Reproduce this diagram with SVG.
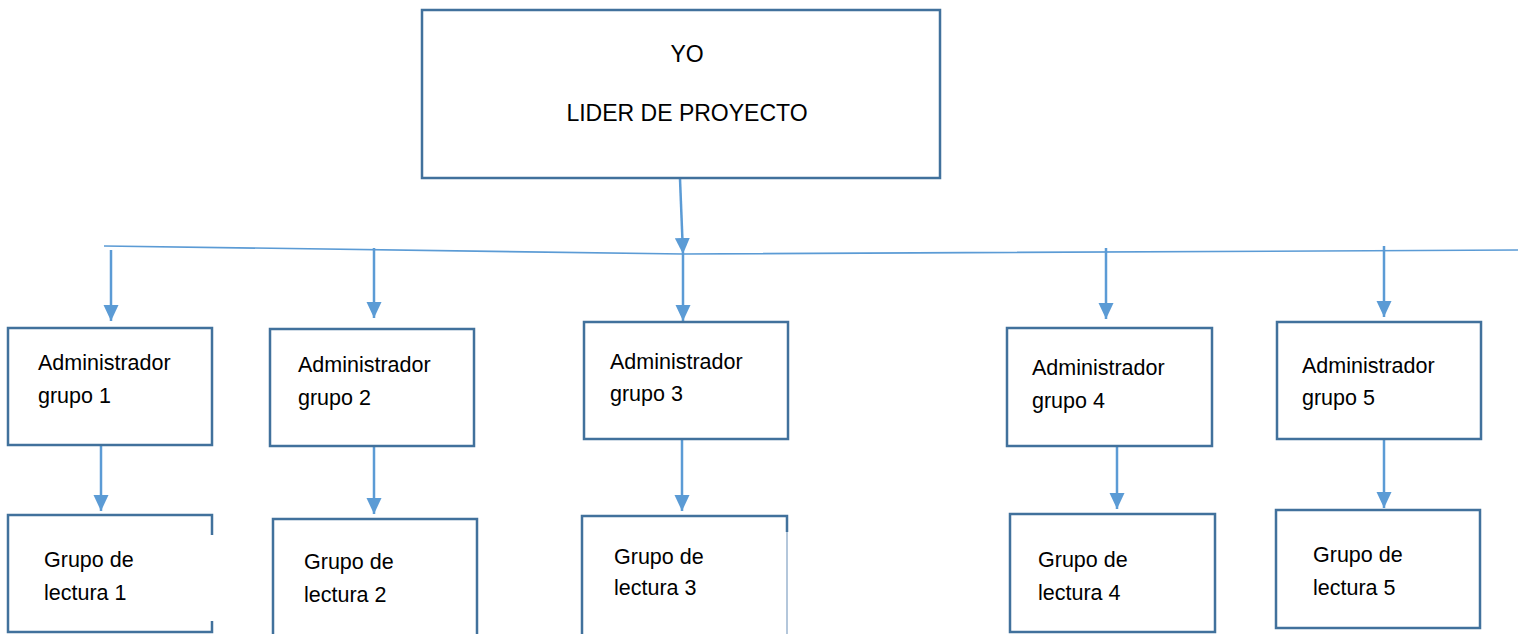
<svg xmlns="http://www.w3.org/2000/svg" width="1526" height="634" viewBox="0 0 1526 634">
<style>
.box{fill:#fff;stroke:#41719c;stroke-width:2.5}
.edge{fill:none;stroke:#41719c;stroke-width:2.5}
.conn{fill:none;stroke:#5b9bd5;stroke-width:2.5}
.hline{fill:none;stroke:#5b9bd5;stroke-width:1.6}
text{font-family:"Liberation Sans",Arial,sans-serif;font-size:21.5px;fill:#000}
.big{font-size:23px;text-anchor:middle}
</style>
<defs>
<marker id="ah" markerUnits="userSpaceOnUse" markerWidth="18" markerHeight="18" viewBox="0 0 18 18" refX="16" refY="9" orient="auto">
<path d="M0,1.5 L16,9 L0,16.5 Z" fill="#5b9bd5"/>
</marker>
</defs>
<rect width="1526" height="634" fill="#fff"/>
<g id="connectors">
<polyline class="hline" points="104,246 683,254 1518,250"/>
<line class="conn" x1="680" y1="179" x2="683" y2="254" marker-end="url(#ah)"/>
<line class="conn" x1="111" y1="250" x2="111" y2="321" marker-end="url(#ah)"/>
<line class="conn" x1="374" y1="248" x2="374" y2="318" marker-end="url(#ah)"/>
<line class="conn" x1="683" y1="254" x2="683" y2="321" marker-end="url(#ah)"/>
<line class="conn" x1="1106" y1="248" x2="1106" y2="319" marker-end="url(#ah)"/>
<line class="conn" x1="1384" y1="246" x2="1384" y2="317" marker-end="url(#ah)"/>
<line class="conn" x1="101" y1="440" x2="101" y2="511" marker-end="url(#ah)"/>
<line class="conn" x1="374" y1="444" x2="374" y2="514" marker-end="url(#ah)"/>
<line class="conn" x1="682" y1="439" x2="682" y2="511" marker-end="url(#ah)"/>
<line class="conn" x1="1117" y1="438" x2="1117" y2="509" marker-end="url(#ah)"/>
<line class="conn" x1="1384" y1="436" x2="1384" y2="508" marker-end="url(#ah)"/>
</g>
<g id="lider">
<rect class="box" x="422" y="10" width="518" height="168"/>
<text class="big" x="687" y="62">YO</text>
<text class="big" x="687" y="121">LIDER DE PROYECTO</text>
</g>
<g id="admin1">
<rect class="box" x="8" y="328" width="204" height="117"/>
<text x="38" y="370">Administrador</text>
<text x="38" y="403">grupo 1</text>
</g>
<g id="admin2">
<rect class="box" x="270" y="329" width="204" height="117"/>
<text x="298" y="372">Administrador</text>
<text x="298" y="405">grupo 2</text>
</g>
<g id="admin3">
<rect class="box" x="584" y="322" width="204" height="117"/>
<text x="610" y="369">Administrador</text>
<text x="610" y="401">grupo 3</text>
</g>
<g id="admin4">
<rect class="box" x="1007" y="328" width="205" height="118"/>
<text x="1032" y="375">Administrador</text>
<text x="1032" y="408">grupo 4</text>
</g>
<g id="admin5">
<rect class="box" x="1277" y="322" width="204" height="117"/>
<text x="1302" y="373">Administrador</text>
<text x="1302" y="405">grupo 5</text>
</g>
<g id="lectura1">
<path class="edge" d="M212,535 L212,515 L8,515 L8,632 L212,632 L212,621"/>
<text x="44" y="567">Grupo de</text>
<text x="44" y="600">lectura 1</text>
</g>
<g id="lectura2">
<path class="edge" d="M477,640 L477,519 L273,519 L273,640"/>
<text x="304" y="569">Grupo de</text>
<text x="304" y="602">lectura 2</text>
</g>
<g id="lectura3">
<path class="edge" d="M787,532 L787,516 L582,516 L582,640"/>
<path d="M787,532 L787,640" fill="none" stroke="#9bb4cf" stroke-width="1.5"/>
<text x="614" y="564">Grupo de</text>
<text x="614" y="595">lectura 3</text>
</g>
<g id="lectura4">
<rect class="box" x="1010" y="514" width="205" height="118"/>
<text x="1038" y="567">Grupo de</text>
<text x="1038" y="600">lectura 4</text>
</g>
<g id="lectura5">
<rect class="box" x="1276" y="510" width="204" height="118"/>
<text x="1313" y="562">Grupo de</text>
<text x="1313" y="595">lectura 5</text>
</g>
</svg>
